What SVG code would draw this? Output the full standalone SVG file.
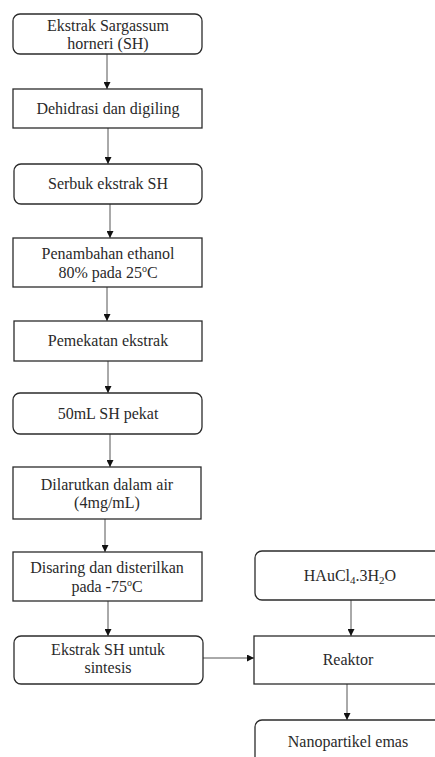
<svg xmlns="http://www.w3.org/2000/svg" width="435" height="757" viewBox="0 0 435 757">
<defs>
<style>
.b{fill:#fff;stroke:#2b2b2b;stroke-width:1.3}
.t{font-family:"Liberation Serif","Times New Roman",serif;font-size:16px;fill:#2a2a2a;text-anchor:middle}
.c{stroke:#555;stroke-width:1;fill:none}
</style>
<marker id="ah" viewBox="0 0 10 10" refX="10" refY="5" markerWidth="7" markerHeight="7" markerUnits="userSpaceOnUse" orient="auto">
<path d="M0,0 L10,5 L0,10 z" fill="#111"/>
</marker>
</defs>
<rect width="435" height="757" fill="#fff"/>
<g id="connectors">
<line class="c" x1="107" y1="54" x2="107" y2="89" marker-end="url(#ah)"/>
<line class="c" x1="108" y1="128" x2="108" y2="164" marker-end="url(#ah)"/>
<line class="c" x1="110" y1="204" x2="110" y2="238" marker-end="url(#ah)"/>
<line class="c" x1="107" y1="287" x2="107" y2="321" marker-end="url(#ah)"/>
<line class="c" x1="108" y1="361" x2="108" y2="393" marker-end="url(#ah)"/>
<line class="c" x1="110" y1="434" x2="110" y2="467" marker-end="url(#ah)"/>
<line class="c" x1="105" y1="519" x2="105" y2="552" marker-end="url(#ah)"/>
<line class="c" x1="108" y1="601" x2="108" y2="636" marker-end="url(#ah)"/>
<line class="c" x1="203" y1="658" x2="254" y2="658" marker-end="url(#ah)"/>
<line class="c" x1="351" y1="600" x2="351" y2="636" marker-end="url(#ah)"/>
<line class="c" x1="347" y1="684" x2="347" y2="720" marker-end="url(#ah)"/>
</g>
<g id="n1"><rect class="b" x="13" y="14" width="189" height="40" rx="7"/>
<text class="t" x="108" y="31">Ekstrak Sargassum</text><text class="t" x="108" y="49">horneri (SH)</text></g>
<g id="n2"><rect class="b" x="13" y="89" width="189" height="39"/>
<text class="t" x="108" y="114">Dehidrasi dan digiling</text></g>
<g id="n3"><rect class="b" x="14" y="164" width="188" height="40" rx="7"/>
<text class="t" x="108" y="189">Serbuk ekstrak SH</text></g>
<g id="n4"><rect class="b" x="13" y="238" width="189" height="49"/>
<text class="t" x="108" y="259">Penambahan ethanol</text><text class="t" x="108" y="278">80% pada 25<tspan font-size="10" dy="-6">o</tspan><tspan dy="6">C</tspan></text></g>
<g id="n5"><rect class="b" x="14" y="321" width="188" height="40"/>
<text class="t" x="108" y="346">Pemekatan ekstrak</text></g>
<g id="n6"><rect class="b" x="13" y="393" width="189" height="41" rx="7"/>
<text class="t" x="108" y="419">50mL SH pekat</text></g>
<g id="n7"><rect class="b" x="13" y="467" width="188" height="52"/>
<text class="t" x="107" y="490">Dilarutkan dalam air</text><text class="t" x="107" y="508">(4mg/mL)</text></g>
<g id="n8"><rect class="b" x="13" y="552" width="189" height="49"/>
<text class="t" x="107" y="573">Disaring dan disterilkan</text><text class="t" x="107" y="592">pada -75<tspan font-size="10" dy="-6">o</tspan><tspan dy="6">C</tspan></text></g>
<g id="n9"><rect class="b" x="14" y="636" width="189" height="48" rx="7"/>
<text class="t" x="108" y="655">Ekstrak SH untuk</text><text class="t" x="108" y="673">sintesis</text></g>
<g id="n10"><rect class="b" x="255" y="551" width="190" height="49" rx="7"/>
<text class="t" x="350" y="581">HAuCl<tspan font-size="11" dy="3">4</tspan><tspan dy="-3">.3H</tspan><tspan font-size="11" dy="3">2</tspan><tspan dy="-3">O</tspan></text></g>
<g id="n11"><rect class="b" x="254" y="636" width="191" height="48"/>
<text class="t" x="348" y="665">Reaktor</text></g>
<g id="n12"><rect class="b" x="255" y="720" width="190" height="50" rx="7"/>
<text class="t" x="348" y="747">Nanopartikel emas</text></g>
</svg>
